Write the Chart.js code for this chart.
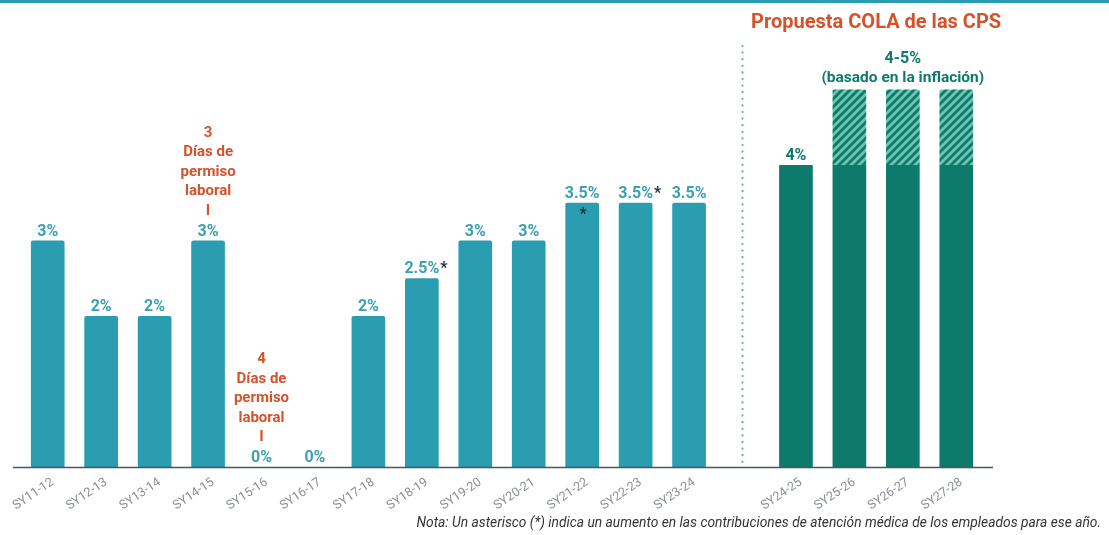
<!DOCTYPE html>
<html><head><meta charset="utf-8">
<script src="https://cdn.jsdelivr.net/npm/chart.js@4.4.1/dist/chart.umd.min.js"></script>
<style>
html,body{margin:0;padding:0;background:#fff;}
#wrap{width:1109px;height:535px;position:relative;}
</style></head>
<body><div id="wrap"><canvas id="c"></canvas></div>
<script>
const categories = ["SY11-12","SY12-13","SY13-14","SY14-15","SY15-16","SY16-17","SY17-18","SY18-19","SY19-20","SY20-21","SY21-22","SY22-23","SY23-24","","SY24-25","SY25-26","SY26-27","SY27-28"];
const historicalValues = [3,2,2,3,0,0,2,2.5,3,3,3.5,3.5,3.5,null,null,null,null,null];
const proposedValues   = [null,null,null,null,null,null,null,null,null,null,null,null,null,null,4,4,4,4];
const inflationRange   = [null,null,null,null,null,null,null,null,null,null,null,null,null,null,null,1,1,1];
const valueLabels = ["3%","2%","2%","3%","0%","0%","2%","2.5%","3%","3%","3.5%","3.5%","3.5%","","4%","","",""];
const asteriskAfter = [7,11];
const asteriskBelow = [10];
const furloughNotes = [{idx:3, lines:["3","Días de","permiso","laboral","I"]},{idx:4, lines:["4","Días de","permiso","laboral","I"]}];
const rangeLabel = ["4-5%","(basado en la inflación)"];
const sectionTitle = "Propuesta COLA de las CPS";
const noteText = "Nota: Un asterisco (*) indica un aumento en las contribuciones de atención médica de los empleados para ese año.";

const TEAL = "#2a9db1", TEAL_TXT = "#3ba0b2", GREEN = "#0d7a6b", ORANGE = "#d4522c", NAVY = "#1b2b4b";

function hatch(){
  const s = 8, c = document.createElement('canvas'); c.width = s; c.height = s;
  const g = c.getContext('2d');
  g.fillStyle = GREEN; g.fillRect(0,0,s,s);
  g.strokeStyle = "#6cc6b1"; g.lineWidth = 2.8;
  g.beginPath();
  g.moveTo(-2, s+2); g.lineTo(s+2, -2);
  g.moveTo(-2, 2); g.lineTo(2, -2);
  g.moveTo(s-2, s+2); g.lineTo(s+2, s-2);
  g.stroke();
  return g.createPattern(c,'repeat');
}

const textPlugin = {
  id:'texts',
  beforeDraw(chart){
    const ctx = chart.ctx;
    ctx.save();
    ctx.fillStyle = TEAL; ctx.fillRect(0,0,chart.width,3);
    ctx.restore();
  },
  afterDatasetsDraw(chart){
    const ctx = chart.ctx, xs = chart.scales.x, ys = chart.scales.y, a = chart.chartArea;
    ctx.save();
    ctx.strokeStyle = "#4a5560"; ctx.lineWidth = 1.6;
    ctx.beginPath(); ctx.moveTo(a.left-8, a.bottom+0.5); ctx.lineTo(a.right+10, a.bottom+0.5); ctx.stroke();
    const sx = xs.getPixelForValue(13);
    ctx.strokeStyle = "#5fa7b3"; ctx.lineWidth = 2.2; ctx.lineCap = 'round'; ctx.setLineDash([0,6.6]);
    ctx.beginPath(); ctx.moveTo(sx, 46); ctx.lineTo(sx, a.bottom-2); ctx.stroke();
    ctx.setLineDash([]);
    ctx.textAlign = 'center'; ctx.textBaseline = 'alphabetic';
    ctx.font = "bold 16px Roboto";
    valueLabels.forEach((t,i)=>{
      if(!t) return;
      const v = historicalValues[i] != null ? historicalValues[i] : proposedValues[i];
      const x = xs.getPixelForValue(i), y = ys.getPixelForValue(v) - 5;
      ctx.fillStyle = i >= 14 ? GREEN : TEAL_TXT;
      ctx.fillText(t, x, y);
      if(asteriskAfter.includes(i)){
        const w = ctx.measureText(t).width;
        ctx.fillStyle = NAVY; ctx.textAlign = 'left';
        ctx.fillText("*", x + w/2 + 1, y);
        ctx.textAlign = 'center';
      }
      if(asteriskBelow.includes(i)){
        ctx.fillStyle = NAVY;
        ctx.fillText("*", x + 1, y + 21);
      }
    });
    ctx.fillStyle = ORANGE; ctx.font = "bold 15px Roboto";
    furloughNotes.forEach(n=>{
      const x = xs.getPixelForValue(n.idx);
      const top = ys.getPixelForValue(historicalValues[n.idx]) - 5 - 21;
      const L = n.lines.length;
      n.lines.forEach((ln,k)=>{
        ctx.fillText(ln, x, top - (L-1-k)*19.5);
      });
    });
    const rx = (xs.getPixelForValue(15)+xs.getPixelForValue(17))/2;
    ctx.fillStyle = GREEN;
    ctx.font = "bold 16px Roboto"; ctx.fillText(rangeLabel[0], rx, 63);
    ctx.font = "bold 15.5px Roboto"; ctx.fillText(rangeLabel[1], rx, 82);
    ctx.fillStyle = ORANGE; ctx.font = "bold 20px Roboto";
    ctx.fillText(sectionTitle, (xs.getPixelForValue(14)+xs.getPixelForValue(17))/2, 28);
    ctx.fillStyle = "#333"; ctx.font = "italic 13.8px Roboto"; ctx.textAlign = 'right';
    ctx.fillText(noteText, 1101, 527);
    ctx.restore();
  }
};

new Chart(document.getElementById('c'), {
  type:'bar',
  data:{
    labels: categories,
    datasets:[
      {data: historicalValues, backgroundColor: TEAL, borderRadius: 2, borderSkipped:'bottom', stack:'s'},
      {data: proposedValues, backgroundColor: GREEN, borderRadius: 0, stack:'s'},
      {data: inflationRange, backgroundColor: hatch(), borderRadius: {topLeft:2,topRight:2}, borderSkipped:'bottom', stack:'s'}
    ]
  },
  options:{
    responsive:true, maintainAspectRatio:false, animation:false,
    layout:{padding:{left:21, right:126, top:14, bottom:0}},
    datasets:{bar:{categoryPercentage:1, barPercentage:0.63}},
    plugins:{legend:{display:false}, tooltip:{enabled:false}, title:{display:false}},
    scales:{
      x:{stacked:true, offset:true,
         grid:{display:false, drawTicks:false}, border:{display:false},
         ticks:{autoSkip:false, minRotation:34, maxRotation:34, padding:8, labelOffset:5,
                color:"#8a8f96", font:{family:"Roboto", size:12.5}},
         afterFit(s){ s.height = 68; }},
      y:{stacked:true, display:false, min:0, max:6}
    }
  },
  plugins:[textPlugin]
});
</script></body></html>
